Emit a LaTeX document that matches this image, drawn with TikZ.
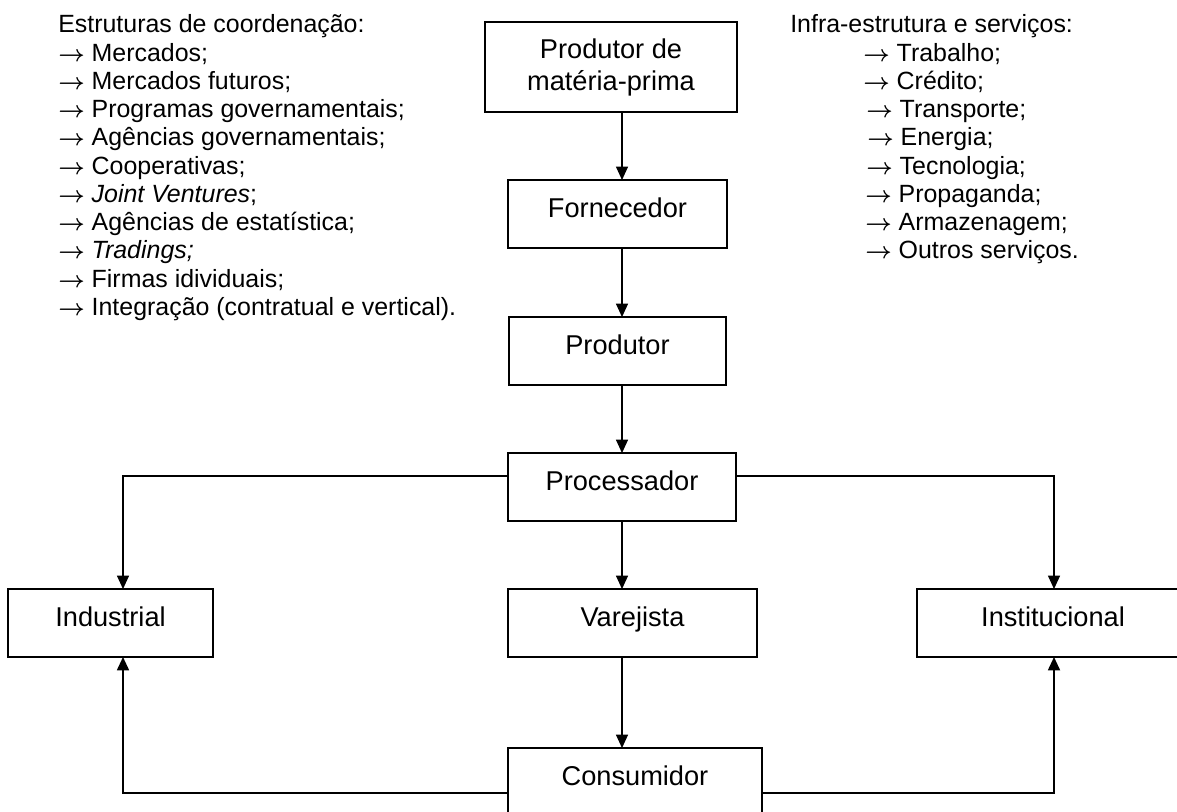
\documentclass[tikz,border=0pt]{standalone}
\usepackage{fontspec}
\setmainfont{Liberation Sans}
\usetikzlibrary{arrows.meta,calc}
\newcommand\rarr{{\boldmath$\rightarrow$}}
\tikzset{
  boxnode/.style={draw, line width=1.25pt, anchor=north west, outer sep=0pt,
    inner xsep=0pt, inner ysep=0pt, text height=27.75pt, text depth=23.25pt,
    font=\fontsize{20.4pt}{24pt}\selectfont},
  topbox/.style={draw, line width=1.25pt, anchor=north west, outer sep=0pt,
    inner sep=0pt, align=center, minimum width=189pt, minimum height=67.5pt,
    font=\fontsize{20.4pt}{24pt}\selectfont},
  conn/.style={line width=0.8pt, -{Triangle[length=10pt,width=9pt]}},
  connthick/.style={line width=1.3pt, -{Triangle[length=10pt,width=9pt]}},
  listtext/.style={font=\fontsize{18.7pt}{21.2pt}\selectfont, align=left,
    anchor=north west, inner sep=0pt},
}
\begin{document}
\begin{tikzpicture}[x=0.75pt,y=-0.75pt]
\useasboundingbox (0,0) rectangle (1177,811);
\clip (0,0) rectangle (1177,811);
\coordinate (spine) at (622,0);
\coordinate (lx) at (123,0);
\coordinate (rx) at (1054,0);
\coordinate (topY) at (0,476);
\coordinate (botY) at (0,793);

\node[topbox] (mp) at (485,22) {Produtor de\\matéria-prima};
\node[boxnode, minimum width=164.25pt] (forn) at (508,180) {Fornecedor};
\node[boxnode, minimum width=162.75pt] (prod) at (509,317) {Produtor};
\node[boxnode, minimum width=171pt] (proc) at (508,453) {Processador};
\node[boxnode, minimum width=153.75pt] (ind) at (8,589) {Industrial};
\node[boxnode, minimum width=186.75pt] (var) at (508,589) {Varejista};
\node[boxnode, minimum width=204pt] (inst) at (917,589) {Institucional};
\node[boxnode, minimum width=190.5pt] (cons) at (508,748) {Consumidor};

\draw[conn] (mp.south -| spine) -- (forn.north -| spine);
\draw[conn] (forn.south -| spine) -- (prod.north -| spine);
\draw[conn] (prod.south -| spine) -- (proc.north -| spine);
\draw[conn] (proc.west |- topY) -| (lx |- ind.north);
\draw[conn] (proc.east |- topY) -| (rx |- inst.north);
\draw[conn] (proc.south -| spine) -- (var.north -| spine);
\draw[conn] (var.south -| spine) -- (cons.north -| spine);
\draw[connthick] (cons.west |- botY) -| (lx |- ind.south);
\draw[connthick] (cons.east |- botY) -| (rx |- inst.south);

\node[listtext] (coord) at (58,14.5) {Estruturas de coordenação:\\
\rarr{} Mercados;\\
\rarr{} Mercados futuros;\\
\rarr{} Programas governamentais;\\
\rarr{} Agências governamentais;\\
\rarr{} Cooperativas;\\
\rarr{} \textit{Joint Ventures};\\
\rarr{} Agências de estatística;\\
\rarr{} \textit{Tradings;}\\
\rarr{} Firmas idividuais;\\
\rarr{} Integração (contratual e vertical).};

\node[listtext] (infra) at (790,14.5) {Infra-estrutura e serviços:\\
\hspace*{54.75pt}\rarr{} Trabalho;\\
\hspace*{54.75pt}\rarr{} Crédito;\\
\hspace*{57pt}\rarr{} Transporte;\\
\hspace*{57.75pt}\rarr{} Energia;\\
\hspace*{57pt}\rarr{} Tecnologia;\\
\hspace*{56.25pt}\rarr{} Propaganda;\\
\hspace*{56.25pt}\rarr{} Armazenagem;\\
\hspace*{56.25pt}\rarr{} Outros serviços.};
\end{tikzpicture}
\end{document}
